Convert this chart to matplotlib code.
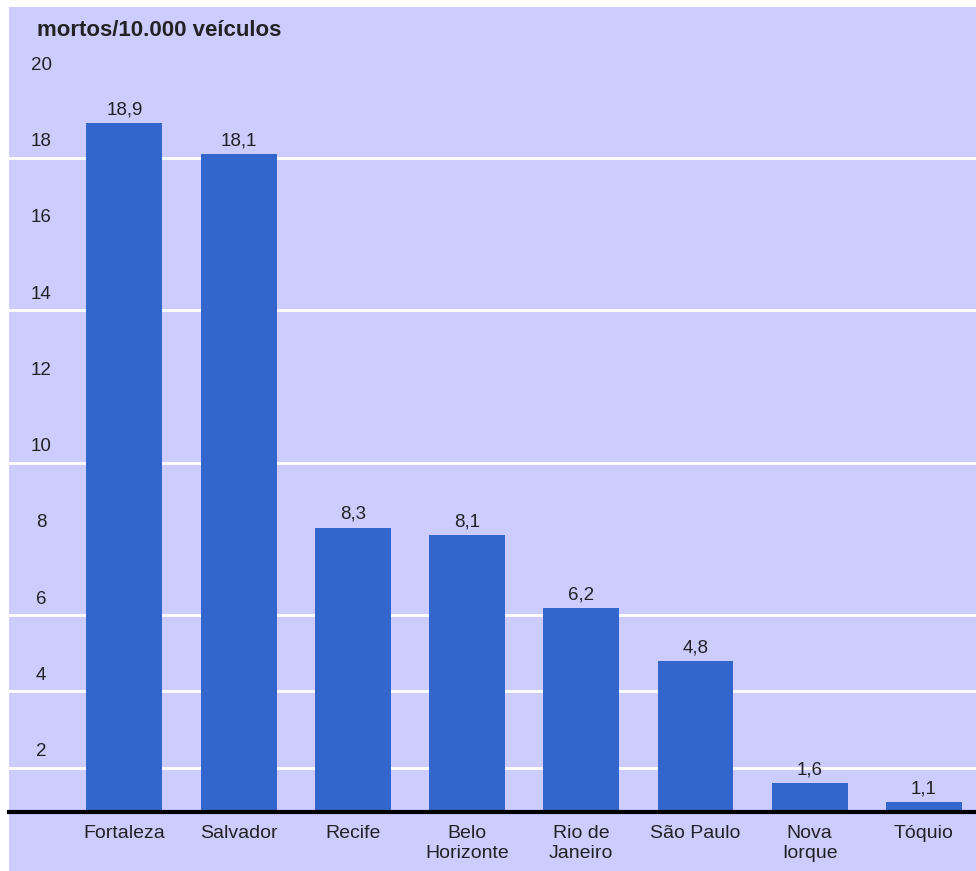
# mortos por 10.000 veiculos - bar chart
import matplotlib.pyplot as plt
from matplotlib.patches import Rectangle
import matplotlib.transforms as mtransforms

cities = ["Fortaleza", "Salvador", "Recife", "Belo\nHorizonte", "Rio de\nJaneiro",
          "São Paulo", "Nova\nIorque", "Tóquio"]
deaths = [18.9, 18.1, 8.3, 8.1, 6.2, 4.8, 1.6, 1.1]
ytick_vals = [2, 4, 6, 8, 10, 12, 14, 16, 18, 20]
grid_vals = [2, 4, 6, 10, 14, 18]

bg = "#ccccff"
bar_color = "#3366cc"
plt.rcParams['font.family'] = ['Liberation Sans', 'DejaVu Sans']

fig = plt.figure(figsize=(9.76, 8.71), dpi=100)
fig.patch.set_facecolor("white")
W, H = 976, 871
fig.patches.append(Rectangle((9 / W, 0), 1 - 9 / W, 1 - 7 / H, transform=fig.transFigure,
                             facecolor=bg, edgecolor="none", zorder=-10))

ax = fig.add_axes([9 / W, 59 / H, 967 / W, 805 / H])
ax.set_zorder(5)
ax.set_facecolor("none")
ax.set_xlim(-1.011, 7.456)
ax.set_ylim(0.84, 21.95)

for g in grid_vals:
    ax.axhline(g, color="white", lw=2, zorder=1)

x = list(range(len(cities)))
ax.bar(x, deaths, width=0.665, color=bar_color, zorder=2)
for xi, v in zip(x, deaths):
    ax.text(xi, v + 0.12, f"{v:.1f}".replace(".", ","), ha="center", va="bottom",
            fontsize=13.5, color="#222222")

for s in ["top", "right", "left"]:
    ax.spines[s].set_visible(False)
ax.spines["bottom"].set_linewidth(3)
ax.spines["bottom"].set_color("black")

ax.set_yticks([])
ax.set_xticks(x)
ax.set_xticklabels(cities, fontsize=14, color="#222222", linespacing=1.3)
ax.tick_params(axis="x", length=0, pad=9)

trans = mtransforms.blended_transform_factory(ax.transAxes, ax.transData)
for t in ytick_vals:
    ax.text(32 / 967, t + 0.42, str(t), transform=trans, ha="center", va="center",
            fontsize=13.5, color="#222222")

fig.text(37 / W, 1 - 30 / H, "mortos/10.000 veículos", fontsize=16, fontweight="bold",
         ha="left", va="center", color="#222222", zorder=10)

fig.savefig("out.png", dpi=100)
